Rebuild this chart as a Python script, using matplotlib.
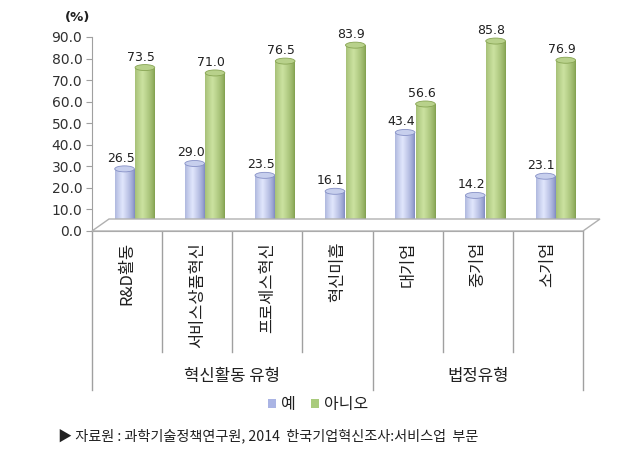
import numpy as np
import matplotlib
matplotlib.use("Agg")
import matplotlib.pyplot as plt
import matplotlib.transforms as mtransforms
from matplotlib.patches import Ellipse, Polygon, Patch
from matplotlib.colors import to_rgb

plt.rcParams['font.family'] = ['Noto Sans CJK KR', 'DejaVu Sans']

categories = ['R&D활동', '서비스상품혁신', '프로세스혁신', '혁신미흡', '대기업', '중기업', '소기업']
groups = ['혁신활동 유형', '법정유형']
group_sizes = [4, 3]
yes_vals = [26.5, 29.0, 23.5, 16.1, 43.4, 14.2, 23.1]
no_vals = [73.5, 71.0, 76.5, 83.9, 56.6, 85.8, 76.9]
series_names = ['예', '아니오']
yticks = [0, 10, 20, 30, 40, 50, 60, 70, 80, 90]
source = '▶ 자료원 : 과학기술정책연구원, 2014  한국기업혁신조사:서비스업  부문'

W, H = 641, 459
fig = plt.figure(figsize=(W / 100, H / 100), dpi=100)
fig.patch.set_facecolor('white')

ax_l, ax_r, ax_t, ax_b = 92, 583, 37, 231
ax = fig.add_axes([ax_l / W, 1 - ax_b / H, (ax_r - ax_l) / W, (ax_b - ax_t) / H])
ax.set_xlim(-0.5, len(categories) - 0.5)
ax.set_ylim(0, 90)
ax.patch.set_alpha(0)

# depth offset for pseudo-3D
dx, dy = 8, 5
trans = ax.transData + mtransforms.ScaledTranslation(dx / 100, dy / 100, fig.dpi_scale_trans)

# floor
def disp(x, y):
    return ax.transData.transform((x, y))
fl = disp(-0.5, 0)
fr = disp(len(categories) - 0.5, 0)
floor = Polygon([fl, fr, fr + np.array([17, 12]), fl + np.array([17, 12])], closed=True,
                transform=None, facecolor='white', edgecolor='#b0b0b0', lw=1.0, zorder=0.5)
fig.patches.append(floor)
floor.set_figure(fig)

x = np.arange(len(categories))
bw = 0.28
blue_dark, blue_light = '#7d88c0', '#e0e6fc'
green_dark, green_light = '#809e4c', '#cbe2a0'

px_per_unit = (ax_b - ax_t) / 90.0
ell_h = 6 / px_per_unit

def cylinder(xc, h, dark, light, z):
    bars = ax.bar([xc], [h], width=bw, color=light, zorder=z)
    p = bars.patches[0]
    p.set_transform(trans)
    prof = np.linspace(0, 1, 64)
    t = np.clip(1 - np.abs(prof - 0.38) / 0.62, 0, 1) ** 0.7
    d = np.array(to_rgb(dark)); l = np.array(to_rgb(light))
    row = d[None, :] * (1 - t[:, None]) + l[None, :] * t[:, None]
    img = np.repeat(row[None, :, :], 2, axis=0)
    im = ax.imshow(img, extent=(xc - bw / 2, xc + bw / 2, 0, h), aspect='auto',
                   transform=trans, zorder=z + 0.1, interpolation='bilinear')
    im.set_clip_path(p)
    eb = Ellipse((xc, 0), bw, ell_h, transform=trans, facecolor=row[20], edgecolor='none', zorder=z - 0.05)
    ax.add_patch(eb)
    top = d * 0.25 + l * 0.75
    et = Ellipse((xc, h), bw, ell_h, transform=trans, facecolor=top, edgecolor=d * 0.9 + l * 0.1,
                 lw=0.6, zorder=z + 0.2)
    ax.add_patch(et)

for i in range(len(categories)):
    cylinder(x[i] - 0.15, yes_vals[i], blue_dark, blue_light, 2)
    cylinder(x[i] + 0.14, no_vals[i], green_dark, green_light, 3)

ax.set_xlim(-0.5, len(categories) - 0.5)
ax.set_ylim(0, 90)

# data labels
lab_trans = ax.transData + mtransforms.ScaledTranslation(4 / 100, 0, fig.dpi_scale_trans)
for i in range(len(categories)):
    for xo, v in ((-0.15, yes_vals[i]), (0.14, no_vals[i])):
        ax.annotate(f'{v:.1f}', (x[i] + xo, v), xycoords=lab_trans, xytext=(0, 6.5),
                    textcoords='offset points', ha='center', va='bottom',
                    fontsize=9, family='DejaVu Sans', color='#202020', zorder=10)

# axes styling
for s in ['top', 'right']:
    ax.spines[s].set_visible(False)
ax.spines['left'].set_color('#a0a0a0')
ax.spines['bottom'].set_color('#a0a0a0')
ax.set_yticks(yticks)
ax.set_yticklabels([f'{v:.1f}' for v in yticks], fontsize=10, color='#303030', family='DejaVu Sans')
ax.tick_params(axis='y', length=4, color='#a0a0a0', pad=3)
ax.set_xticks([])

fig.text(78 / W, 1 - 18 / H, '(%)', ha='center', va='center', fontsize=9.5, fontweight='bold',
         color='#202020', family='DejaVu Sans')

# category separators and labels
bt = mtransforms.blended_transform_factory(ax.transData, fig.transFigure)
bounds = np.arange(len(categories) + 1) - 0.5
outer = set([0, group_sizes[0], len(categories)])
for k, b in enumerate(bounds):
    ybot = 390 if k in outer else 352
    ax.plot([b, b], [1 - ax_b / H, 1 - ybot / H], transform=bt, color='#a0a0a0', lw=1.0,
            clip_on=False, zorder=1)
for i, c in enumerate(categories):
    ax.text(x[i], 1 - 242 / H, c, transform=bt, rotation=90, ha='center', va='top',
            fontsize=11.8, color='#202020')
start = 0
for g, n in zip(groups, group_sizes):
    ax.text(start + (n - 1) / 2, 1 - 377 / H, g, transform=bt, ha='center', va='center',
            fontsize=12, color='#202020')
    start += n

# legend
handles = [Patch(facecolor='#aab4e4', edgecolor='none'), Patch(facecolor='#a9cb7c', edgecolor='none')]
fig.legend(handles, series_names, loc='center', bbox_to_anchor=(318 / W, 1 - 405 / H), ncol=2,
           frameon=False, fontsize=11.5, handlelength=0.5, handleheight=0.5, handletextpad=0.3,
           columnspacing=1.0, labelcolor='#202020')

fig.text(58 / W, 1 - 436 / H, source, ha='left', va='center', fontsize=10.2, color='#202020')

fig.savefig('out.png', dpi=100, facecolor='white')
